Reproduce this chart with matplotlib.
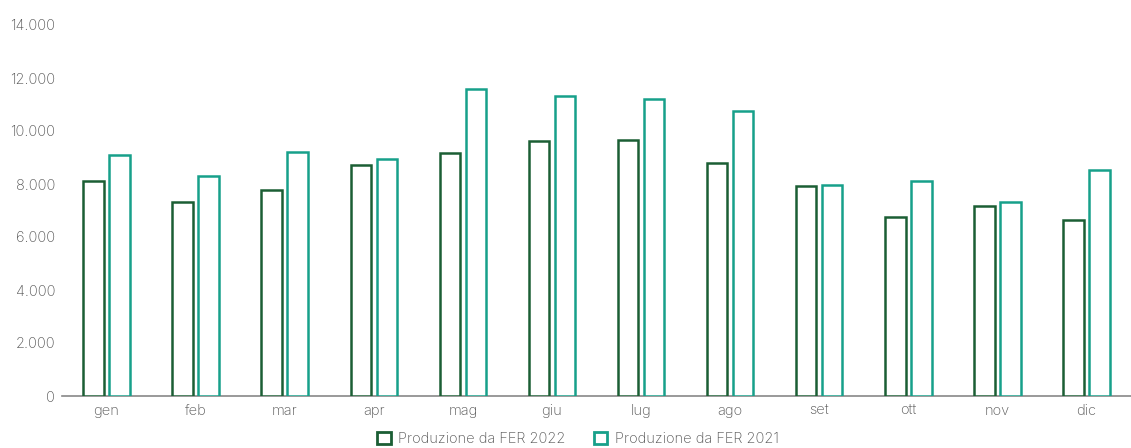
import matplotlib
matplotlib.use("Agg")
import matplotlib.pyplot as plt
import numpy as np
from matplotlib.patches import Patch
from matplotlib.ticker import FuncFormatter

months = ["gen", "feb", "mar", "apr", "mag", "giu", "lug", "ago", "set", "ott", "nov", "dic"]
fer_2022 = [8100, 7320, 7780, 8720, 9180, 9620, 9660, 8790, 7930, 6760, 7180, 6650]
fer_2021 = [9100, 8310, 9220, 8950, 11600, 11330, 11200, 10760, 7960, 8130, 7320, 8520]
yticks = [0, 2000, 4000, 6000, 8000, 10000, 12000, 14000]

c22 = "#1b5e34"
c21 = "#17a08a"
gray = "#555555"

plt.rcParams['font.family'] = ['Inter', 'DejaVu Sans']
plt.rcParams['font.weight'] = 'light'

fig = plt.figure(figsize=(11.31, 4.48), dpi=100)
ax = fig.add_axes([62/1131, 1 - 396/448, 1 - 62/1131, (396 - 25)/448])

x = np.arange(len(months))
w = 0.23
off = 0.146
ax.bar(x - off, fer_2022, width=w, facecolor="white", edgecolor=c22, linewidth=1.8, zorder=3)
ax.bar(x + off, fer_2021, width=w, facecolor="white", edgecolor=c21, linewidth=1.8, zorder=3)

ax.set_xlim(-0.5, 11.5)
ax.set_ylim(0, 14000)
ax.set_yticks(yticks)
ax.yaxis.set_major_formatter(FuncFormatter(lambda v, p: f"{int(v):,}".replace(",", ".")))
ax.set_xticks(x)
ax.set_xticklabels(months)
for s in ["top", "right", "left"]:
    ax.spines[s].set_visible(False)
ax.spines["bottom"].set_color("#888888")
ax.spines["bottom"].set_linewidth(1.2)
ax.tick_params(axis="both", length=0, labelsize=10.5, colors=gray)
ax.tick_params(axis="y", pad=5)
ax.tick_params(axis="x", pad=6)

handles = [Patch(facecolor="white", edgecolor=c22, linewidth=2, label="Produzione da FER 2022"),
           Patch(facecolor="white", edgecolor=c21, linewidth=2, label="Produzione da FER 2021")]
leg = fig.legend(handles=handles, loc="center", bbox_to_anchor=(578/1131, 1 - 439/448), ncol=2,
                 frameon=False, fontsize=10.5, handlelength=0.9, handleheight=0.9,
                 handletextpad=0.5, columnspacing=2.0)
for t in leg.get_texts():
    t.set_color(gray)

fig.savefig("out.png", dpi=100)
